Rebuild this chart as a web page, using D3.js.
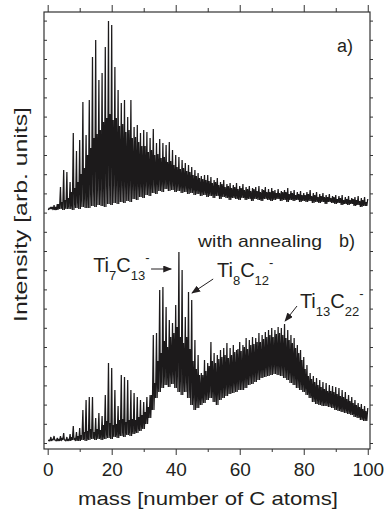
<!DOCTYPE html>
<html>
<head>
<meta charset="utf-8">
<script src="https://cdn.jsdelivr.net/npm/d3@7"></script>
<style>
body { margin: 0; background: #fff; }
svg { display: block; }
text { font-family: "Liberation Sans", Arial, sans-serif; fill: #231f20; }
</style>
</head>
<body>
<svg width="385" height="513"></svg>
<script>
// heights above each trace's own baseline, one entry per mass (1..100 C atoms)
// peak = tallest line at that mass, mid = top of the dense band, low = valley floor
var peakA = [3,5,6,23,40,38,28,77,59,70,
  108,75,110,153,170,130,137,163,189,185,
  143,120,107,110,93,110,83,85,77,80,
  78,72,81,67,71,67,65,68,60,55,
  53,50,47,45,43,40,37,34,35,35,
  33,30,32,28,30,26,27,25,27,24,
  26,23,24,22,23,24,21,23,21,22,
  20,21,19,20,22,19,20,18,19,17,
  18,20,17,18,16,17,15,16,14,15,
  14,15,13,14,12,13,14,12,13,11]
var midA = [2,3,3,6,8,10,12,18,22,28,
  36,42,55,62,72,76,80,88,92,96,
  90,92,84,86,78,80,72,73,68,64,
  64,58,60,55,56,52,53,48,49,45,
  43,41,42,39,38,35,34,32,31,30,
  29,27,28,25,26,23,24,22,23,21,
  22,20,21,19,21,19,18,20,18,18,
  19,17,17,18,18,16,17,15,16,15,
  15,16,14,15,13,14,13,13,12,13,
  11,12,10,11,10,11,10,9,10,8]
var lowA = [0,1,0,0,1,0,1,1,0,2,
  1,3,2,2,4,3,5,4,3,6,
  5,7,6,8,7,9,8,11,10,13,
  12,15,14,17,16,19,18,21,19,20,
  18,19,17,18,16,17,15,16,14,15,
  13,14,12,14,11,13,12,10,12,11,
  10,12,10,11,9,11,10,9,11,10,
  9,10,11,9,10,8,10,9,10,8,
  9,8,9,7,8,7,8,6,8,7,
  6,7,5,6,5,6,4,5,3,4]

var peakB = [4,5,3,5,8,4,7,15,9,13,
  31,41,44,44,23,28,25,46,78,73,
  51,35,66,64,61,51,48,44,41,39,
  44,46,106,108,151,154,134,121,118,136,
  189,171,124,149,141,101,86,68,81,78,
  99,88,86,91,93,98,93,96,91,99,
  96,103,101,104,103,108,106,109,111,113,
  111,114,113,117,111,106,103,96,91,84,
  76,68,65,63,61,59,58,56,55,54,
  53,51,49,46,44,41,38,37,35,33]
var midB = [1,2,1,2,3,1,2,4,3,5,
  6,9,10,12,9,12,11,16,20,18,
  16,17,21,22,19,21,22,21,24,26,
  29,34,46,58,80,88,100,94,104,108,
  114,104,98,104,92,80,72,66,66,70,
  75,80,78,82,84,86,83,86,89,92,
  90,94,92,96,97,99,99,102,104,106,
  104,107,108,106,103,101,98,93,88,81,
  72,65,62,59,56,54,52,50,50,49,
  47,45,44,42,40,38,36,34,32,30]
var lowB = [0,0,1,0,0,1,0,0,1,0,
  0,1,0,1,2,1,2,1,2,3,
  2,4,3,5,4,6,5,7,8,10,
  12,17,23,31,43,49,53,56,54,57,
  53,49,46,49,43,36,31,33,36,38,
  41,43,39,36,41,43,45,47,48,49,
  51,51,53,56,57,59,61,63,64,65,
  66,67,66,65,63,61,58,56,53,51,
  49,46,43,39,37,36,35,35,34,33,
  31,30,29,28,27,26,24,23,21,20]

var offsets = [233, 2]   // vertical shift of trace a) and b)
var xTicks = [0, 20, 40, 60, 80, 100]
var xMinor = [10, 30, 50, 70, 90]
var yStep = 19.2         // spacing of the unlabelled intensity ticks
var yTicks = d3.range(0, 430, yStep)

var notes = [
  {parts: [["Ti",20],["7",13],["C",20],["13",13],["-",13]], m: 14.2, v: 171, from: [32.3,174], to: [38.6,174]},
  {parts: [["Ti",20],["8",13],["C",20],["12",13],["-",13]], m: 52.9, v: 166, from: [51.7,164], to: [45.1,150]},
  {parts: [["Ti",20],["13",13],["C",20],["22",13],["-",13]], m: 78.8, v: 135, from: [77.9,137], to: [74.2,122]}
]

var svg = d3.select("svg")
var margin = {left: 44, right: 15, top: 12, bottom: 64}
var W = 385, H = 513

var x = d3.scaleLinear().domain([-1.15, 100.7]).range([margin.left, W - margin.right])
var y = d3.scaleLinear().domain([-6, 431]).range([H - margin.bottom, margin.top])

// four samples per mass: valley, band top, valley (next mass), main peak
function trace(peak, mid, low, off) {
  var pts = []
  peak.forEach((p, i) => {
    var m = i + 1
    var nextLow = low[Math.min(i + 1, low.length - 1)]
    pts.push([m - 0.8, off + low[i]])
    pts.push([m - 0.55, off + mid[i]])
    pts.push([m - 0.3, off + nextLow])
    pts.push([m, off + p])
  })
  return pts
}

var line = d3.line().x(d => x(d[0])).y(d => y(d[1]))

var plot = svg.append("g")
plot.selectAll("path.trace")
  .data([trace(peakA, midA, lowA, offsets[0]), trace(peakB, midB, lowB, offsets[1])])
  .enter().append("path")
  .attr("class", "trace")
  .attr("d", line)
  .attr("fill", "none")
  .attr("stroke", "#1c1a1b")
  .attr("stroke-width", 1.25)
  .attr("stroke-linejoin", "bevel")

// axes
var axisColor = "#333"
function styleAxis(g) {
  g.select(".domain").remove()
  g.selectAll("line").attr("stroke", axisColor)
}

svg.append("g").attr("transform", "translate(0," + y.range()[0] + ")")
  .call(d3.axisBottom(x).tickValues(xTicks).tickSize(6).tickPadding(8).tickFormat(d3.format("d")))
  .call(styleAxis)
  .selectAll("text").attr("font-size", 19).attr("font-family", null).attr("fill", "#231f20")
svg.append("g").attr("transform", "translate(0," + y.range()[0] + ")")
  .call(d3.axisBottom(x).tickValues(xMinor).tickSize(3).tickFormat(""))
  .call(styleAxis)
svg.append("g").attr("transform", "translate(0," + y.range()[1] + ")")
  .call(d3.axisTop(x).tickValues(xTicks).tickSize(7).tickFormat(""))
  .call(styleAxis)
svg.append("g").attr("transform", "translate(0," + y.range()[1] + ")")
  .call(d3.axisTop(x).tickValues(xMinor).tickSize(4).tickFormat(""))
  .call(styleAxis)
svg.append("g").attr("transform", "translate(" + x.range()[0] + ",0)")
  .call(d3.axisLeft(y).tickValues(yTicks).tickSize(-3).tickFormat(""))
  .call(styleAxis)
svg.append("g").attr("transform", "translate(" + x.range()[1] + ",0)")
  .call(d3.axisRight(y).tickValues(yTicks).tickSize(3).tickFormat(""))
  .call(styleAxis)

svg.append("rect")
  .attr("x", x.range()[0]).attr("y", y.range()[1])
  .attr("width", x.range()[1] - x.range()[0])
  .attr("height", y.range()[0] - y.range()[1])
  .attr("fill", "none").attr("stroke", axisColor).attr("stroke-width", 1.2)

// axis titles
svg.append("text")
  .attr("x", 78).attr("y", 505)
  .attr("font-size", 19)
  .attr("textLength", 260).attr("lengthAdjust", "spacingAndGlyphs")
  .text("mass [number of C atoms]")
svg.append("text")
  .attr("transform", "translate(27," + 214.5 + ") rotate(-90)")
  .attr("text-anchor", "middle")
  .attr("font-size", 19)
  .attr("textLength", 215).attr("lengthAdjust", "spacingAndGlyphs")
  .text("Intensity [arb. units]")

// panel labels
svg.append("text").attr("x", x(90.4)).attr("y", y(391)).attr("font-size", 18).text("a)")
svg.append("text").attr("x", x(47)).attr("y", y(196)).attr("font-size", 17)
  .attr("textLength", 124).attr("lengthAdjust", "spacingAndGlyphs").text("with annealing")
svg.append("text").attr("x", x(91)).attr("y", y(196)).attr("font-size", 18).text("b)")

// peak annotations
svg.append("defs").append("marker")
  .attr("id", "head").attr("markerUnits", "userSpaceOnUse")
  .attr("markerWidth", 9).attr("markerHeight", 7)
  .attr("refX", 8).attr("refY", 3.5).attr("orient", "auto")
  .append("path").attr("d", "M0,0L9,3.5L0,7Z").attr("fill", "#231f20")

notes.forEach(n => {
  var t = svg.append("text").attr("x", x(n.m)).attr("y", y(n.v))
  var shift = 0
  n.parts.forEach((p, i) => {
    var dy = 0
    if (i == 1 || i == 3) dy = 8 - shift
    else if (i == 2) dy = -shift
    else if (i == 4) dy = -10 - shift
    shift += dy
    t.append("tspan").attr("dy", dy).attr("font-size", p[1]).text(p[0])
  })
  svg.append("line")
    .attr("x1", x(n.from[0])).attr("y1", y(n.from[1]))
    .attr("x2", x(n.to[0])).attr("y2", y(n.to[1]))
    .attr("stroke", "#231f20").attr("stroke-width", 1)
    .attr("marker-end", "url(#head)")
})
</script>
</body>
</html>
